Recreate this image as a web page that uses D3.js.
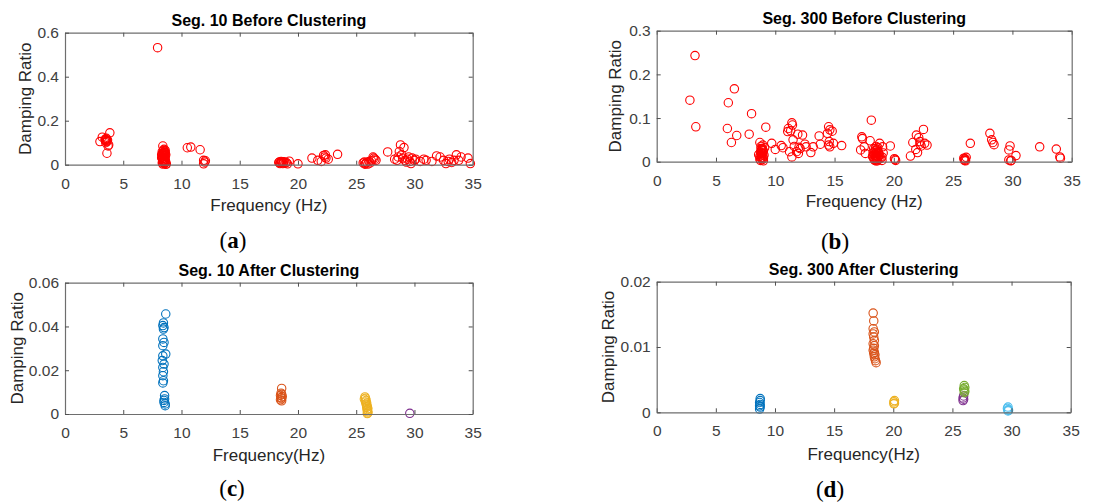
<!DOCTYPE html>
<html>
<head>
<meta charset="utf-8">
<script src="https://cdn.jsdelivr.net/npm/d3@7"></script>
<style>
	body { margin: 0; background: #fff; }
	svg { display: block; font-family: "Liberation Sans", Arial, sans-serif; }
</style>
</head>
<body>
<div id="chart"></div>
<script>
// ---- data (frequency Hz, damping ratio) ----
const xTicks = [0, 5, 10, 15, 20, 25, 30, 35];
const yTicksA = [0, 0.2, 0.4, 0.6];
const yTicksB = [0, 0.1, 0.2, 0.3];
const yTicksC = [0, 0.02, 0.04, 0.06];
const yTicksD = [0, 0.01, 0.02];

// Seg. 10 before clustering
const seg10Before = [
	[3.0, 0.105], [3.2, 0.125], [3.45, 0.115], [3.5, 0.11], [3.55, 0.12], [3.6, 0.105], [3.5, 0.1],
	[3.65, 0.112], [3.7, 0.085], [3.6, 0.052], [3.85, 0.145], [3.75, 0.09], [3.5, 0.115], [3.55, 0.108], [3.45, 0.112],
	[7.95, 0.532],
	[8.4, 0.085], [8.5, 0.07], [8.35, 0.06], [8.6, 0.055], [8.45, 0.05], [8.3, 0.045], [8.5, 0.042],
	[8.6, 0.038], [8.4, 0.035], [8.55, 0.03], [8.35, 0.028], [8.6, 0.025], [8.45, 0.02], [8.5, 0.015],
	[8.65, 0.012], [8.4, 0.01], [8.55, 0.005], [8.7, 0.003], [8.3, 0.032], [8.5, 0.022], [8.4, 0.018],
	[8.65, 0.045], [8.35, 0.008], [8.45, 0.065], [8.55, 0.06], [8.35, 0.05], [8.6, 0.048], [8.5, 0.04],
	[8.4, 0.027], [8.6, 0.018], [8.45, 0.012], [8.55, 0.008], [8.65, 0.002], [8.4, 0.003], [8.5, 0.055], [8.6, 0.065],
	[10.5, 0.077], [10.8, 0.08], [11.6, 0.068], [11.9, 0.02], [12.0, 0.012], [11.9, 0.004], [12.05, 0.018],
	[18.4, 0.012], [18.5, 0.008], [18.6, 0.01], [18.7, 0.005], [18.8, 0.013], [18.9, 0.007], [19.0, 0.01],
	[18.55, 0.015], [19.1, 0.004], [19.25, 0.016], [20.0, 0.004], [18.45, 0.005], [18.65, 0.013],
	[18.75, 0.009], [18.35, 0.01],
	[21.2, 0.03], [21.7, 0.02], [22.0, 0.015], [22.2, 0.042], [22.3, 0.035], [22.4, 0.03], [22.6, 0.025],
	[22.35, 0.045], [23.4, 0.047],
	[25.6, 0.008], [25.7, 0.012], [25.8, 0.005], [25.9, 0.01], [26.0, 0.003], [26.1, 0.015], [26.2, 0.008],
	[25.75, 0.002], [26.3, 0.018], [26.5, 0.03], [26.6, 0.025], [26.7, 0.02], [26.45, 0.035],
	[27.7, 0.058], [28.3, 0.025], [28.5, 0.02], [28.6, 0.035], [28.7, 0.06], [28.8, 0.09], [29.1, 0.078],
	[28.9, 0.045], [29.0, 0.03], [29.2, 0.02], [29.4, 0.025], [29.5, 0.035], [29.6, 0.015], [29.7, 0.005],
	[29.3, 0.012], [29.8, 0.03], [30.0, 0.02],
	[30.1, 0.025], [30.5, 0.015], [30.8, 0.025], [31.0, 0.02], [31.5, 0.015], [31.9, 0.04], [32.2, 0.035],
	[32.5, 0.02], [32.7, 0.005], [32.9, 0.015], [33.0, 0.025], [33.2, 0.01], [33.4, 0.02], [33.6, 0.045],
	[33.8, 0.02], [34.0, 0.035], [34.6, 0.03], [34.8, 0.005]
];

// Seg. 300 before clustering
const seg300Before = [
	[3.23, 0.243], [2.8, 0.141], [3.3, 0.08],
	[6.04, 0.135], [6.55, 0.167], [5.96, 0.076], [6.3, 0.044], [6.75, 0.06],
	[7.8, 0.063], [8.0, 0.11], [9.2, 0.079], [9.7, 0.042], [10.0, 0.028], [10.5, 0.037], [10.65, 0.032],
	[8.7, 0.044], [8.8, 0.035], [8.9, 0.03], [9.0, 0.025], [8.75, 0.022], [8.85, 0.018], [9.05, 0.015],
	[8.7, 0.012], [8.95, 0.01], [8.8, 0.008], [8.9, 0.005], [8.75, 0.003], [9.0, 0.002], [8.85, 0.026],
	[9.1, 0.032], [8.6, 0.016], [8.95, 0.038], [8.8, 0.014], [8.8, 0.02], [8.9, 0.02], [8.85, 0.01],
	[8.9, 0.028], [8.8, 0.03], [8.95, 0.018], [8.7, 0.006], [9.0, 0.008],
	[11.4, 0.089], [11.45, 0.084], [11.1, 0.076], [11.05, 0.069], [11.5, 0.05], [11.9, 0.063], [12.3, 0.061],
	[11.6, 0.035], [11.2, 0.023], [11.4, 0.011], [11.8, 0.023], [11.95, 0.019], [12.1, 0.03], [12.5, 0.04],
	[12.6, 0.034], [11.3, 0.071], [12.0, 0.033],
	[13.0, 0.021], [13.2, 0.034], [13.7, 0.059], [13.8, 0.04], [14.5, 0.08], [14.6, 0.073], [14.4, 0.065],
	[14.8, 0.07], [14.5, 0.038], [14.55, 0.046], [14.6, 0.034], [14.9, 0.042], [15.6, 0.037],
	[17.3, 0.057], [17.35, 0.053], [17.2, 0.027], [17.5, 0.034], [17.6, 0.019], [18.1, 0.095], [18.0, 0.048],
	[18.3, 0.03], [18.4, 0.025], [18.5, 0.02], [18.35, 0.015], [18.45, 0.01], [18.55, 0.005], [18.6, 0.028],
	[18.65, 0.018], [18.3, 0.008], [18.4, 0.003], [18.7, 0.012], [18.5, 0.035], [18.6, 0.002], [18.25, 0.02],
	[18.75, 0.006], [18.5, 0.014], [18.4, 0.018], [18.55, 0.022], [18.45, 0.03], [18.6, 0.008], [18.35, 0.005],
	[18.7, 0.022], [18.8, 0.015], [18.9, 0.008], [18.5, 0.002], [18.65, 0.032], [18.2, 0.012], [18.55, 0.012],
	[18.8, 0.042], [19.05, 0.034], [19.0, 0.011], [19.1, 0.02], [19.0, 0.003], [19.7, 0.036],
	[20.1, 0.005], [20.15, 0.003], [20.05, 0.007],
	[21.4, 0.013], [21.6, 0.044], [21.9, 0.061], [21.85, 0.028], [22.1, 0.055], [22.2, 0.046], [22.3, 0.036],
	[22.5, 0.074], [22.6, 0.042], [22.8, 0.038], [22.2, 0.04], [22.0, 0.021],
	[25.9, 0.008], [26.0, 0.004], [26.05, 0.002], [25.95, 0.006], [26.1, 0.01], [26.0, 0.007], [25.95, 0.003],
	[26.45, 0.042],
	[28.1, 0.065], [28.25, 0.05], [28.35, 0.044], [28.45, 0.039],
	[29.7, 0.027], [29.8, 0.036], [29.7, 0.004], [29.85, 0.002], [29.9, 0.003], [30.3, 0.014],
	[32.3, 0.034], [33.7, 0.029], [34.0, 0.011], [34.05, 0.008]
];

// Seg. 10 after clustering, one array per cluster
const seg10Cluster1 = [
	[8.65, 0.0457], [8.45, 0.0416], [8.4, 0.0404], [8.5, 0.0395], [8.45, 0.0388], [8.4, 0.0343], [8.5, 0.0327],
	[8.4, 0.0312], [8.65, 0.0274], [8.4, 0.0266], [8.35, 0.0244], [8.5, 0.0228], [8.4, 0.0213], [8.45, 0.0193],
	[8.4, 0.0175], [8.45, 0.0152], [8.4, 0.0142], [8.55, 0.0084], [8.55, 0.0069], [8.5, 0.0053], [8.6, 0.0038],
	[8.5, 0.0062], [8.6, 0.0046]
];
const seg10Cluster2 = [
	[18.6, 0.0117], [18.55, 0.0095], [18.6, 0.009], [18.5, 0.0085], [18.65, 0.008], [18.55, 0.0075],
	[18.6, 0.007], [18.5, 0.0065], [18.6, 0.006]
];
const seg10Cluster3 = [
	[25.75, 0.0078], [25.8, 0.0072], [25.7, 0.0068], [25.85, 0.0062], [25.8, 0.0055], [25.9, 0.005],
	[25.85, 0.0045], [25.9, 0.004], [25.95, 0.0035], [25.9, 0.003], [26.0, 0.0025], [25.95, 0.002],
	[25.95, 0.0015], [26.0, 0.001], [26.0, 0.0005], [25.95, 0.0002]
];
const seg10Cluster4 = [[29.6, 0.0003]];

// Seg. 300 after clustering
const seg300Cluster1 = [
	[8.75, 0.0021], [8.75, 0.0018], [8.7, 0.0015], [8.75, 0.0012], [8.7, 0.001], [8.75, 0.0008], [8.7, 0.0005]
];
const seg300Cluster2 = [
	[18.3, 0.0152], [18.35, 0.014], [18.3, 0.0128], [18.4, 0.0123], [18.3, 0.012], [18.35, 0.0115],
	[18.4, 0.011], [18.3, 0.0105], [18.4, 0.0102], [18.35, 0.0098], [18.3, 0.0095], [18.4, 0.0092],
	[18.35, 0.009], [18.45, 0.0088], [18.4, 0.0085], [18.45, 0.0082], [18.5, 0.0079], [18.55, 0.0076]
];
const seg300Cluster3 = [[20.1, 0.0018], [20.05, 0.0016], [20.1, 0.0014], [20.05, 0.0013]];
const seg300Cluster4 = [[25.95, 0.0025], [25.9, 0.0022], [25.95, 0.002], [25.9, 0.0018]];
const seg300Cluster5 = [[26.0, 0.0041], [26.05, 0.0038], [25.95, 0.0036], [26.0, 0.0034], [26.05, 0.0032], [26.0, 0.003]];
const seg300Cluster6 = [[29.7, 0.0008], [29.65, 0.0006], [29.7, 0.0004], [29.75, 0.0003], [29.7, 0.0002]];

const clusterColors = ["#0072BD", "#D95319", "#EDB120", "#7E2F8E", "#77AC30", "#4DBEEE"];

const W = 1107, H = 502;

const svg = d3.select("#chart")
	.append("svg")
	.attr("width", W)
	.attr("height", H);

function drawPanel(p) {
	const x = d3.scaleLinear().domain([0, 35]).range([p.left, p.right]);
	const y = d3.scaleLinear().domain([0, p.yMax]).range([p.bottom, p.top]);
	const g = svg.append("g");

	// points first so axes sit on top
	p.series.forEach(s => {
		g.append("g")
			.selectAll("circle")
			.data(s.data)
			.enter()
			.append("circle")
			.attr("cx", d => x(d[0]))
			.attr("cy", d => y(d[1]))
			.attr("r", 4.2)
			.attr("fill", "none")
			.attr("stroke", s.color)
			.attr("stroke-width", 1.1);
	});

	// axes (ticks point inward, box all round)
	g.append("g")
		.attr("transform", `translate(0, ${p.bottom})`)
		.call(d3.axisBottom(x).tickValues(xTicks).tickSizeInner(-4).tickSizeOuter(0).tickPadding(13).tickFormat(d => d));
	g.append("g")
		.attr("transform", `translate(0, ${p.top})`)
		.call(d3.axisTop(x).tickValues(xTicks).tickSizeInner(-4).tickSizeOuter(0).tickFormat(""));
	g.append("g")
		.attr("transform", `translate(${p.left}, 0)`)
		.call(d3.axisLeft(y).tickValues(p.yTicks).tickSizeInner(-4).tickSizeOuter(0).tickPadding(6).tickFormat(d => String(d)));
	g.append("g")
		.attr("transform", `translate(${p.right}, 0)`)
		.call(d3.axisRight(y).tickValues(p.yTicks).tickSizeInner(-4).tickSizeOuter(0).tickFormat(""));
	g.selectAll(".tick text")
		.style("font-size", "15.5px")
		.style("font-family", "'Liberation Sans', Arial, sans-serif")
		.attr("fill", "#404040");
	g.selectAll(".domain").attr("stroke", "#6e6e6e").attr("stroke-width", 1.2);
	g.selectAll(".tick line").attr("stroke", "#505050");

	const cx = (p.left + p.right) / 2;

	g.append("text")
		.text(p.title)
		.attr("x", cx)
		.attr("y", p.titleY)
		.style("text-anchor", "middle")
		.style("font-weight", "bold")
		.style("font-size", "16px")
		.attr("fill", "#000");

	g.append("text")
		.text(p.xLabel)
		.attr("x", cx)
		.attr("y", p.xLabelY)
		.style("text-anchor", "middle")
		.style("font-size", "17px")
		.attr("fill", "#262626");

	g.append("text")
		.text("Damping Ratio")
		.attr("transform", `translate(${p.yLabelX}, ${(p.top + p.bottom) / 2}) rotate(-90)`)
		.attr("dy", "0.35em")
		.style("text-anchor", "middle")
		.style("font-size", "17px")
		.attr("fill", "#262626");

	const tag = g.append("text")
		.attr("x", p.tagX)
		.attr("y", p.tagY)
		.style("text-anchor", "middle")
		.style("font-family", "'Liberation Serif', 'DejaVu Serif', serif")
		.style("font-size", "23px")
		.attr("fill", "#000");
	tag.append("tspan").text("(");
	tag.append("tspan").text(p.tag).style("font-weight", "bold");
	tag.append("tspan").text(")");
}

const panels = [
	{
		left: 65, right: 472.7, top: 32.7, bottom: 164.7, yMax: 0.6, yTicks: yTicksA,
		title: "Seg. 10 Before Clustering", titleY: 26, xLabel: "Frequency (Hz)", xLabelY: 211,
		yLabelX: 25, tag: "a", tagX: 233, tagY: 248,
		series: [{ data: seg10Before, color: "#ff0000" }]
	},
	{
		left: 656.7, right: 1071.7, top: 30.7, bottom: 161.7, yMax: 0.3, yTicks: yTicksB,
		title: "Seg. 300 Before Clustering", titleY: 24, xLabel: "Frequency (Hz)", xLabelY: 207,
		yLabelX: 615, tag: "b", tagX: 835, tagY: 249,
		series: [{ data: seg300Before, color: "#ff0000" }]
	},
	{
		left: 65, right: 472.7, top: 282.7, bottom: 414, yMax: 0.06, yTicks: yTicksC,
		title: "Seg. 10 After Clustering", titleY: 276, xLabel: "Frequency(Hz)", xLabelY: 461,
		yLabelX: 17, tag: "c", tagX: 232, tagY: 496,
		series: [seg10Cluster1, seg10Cluster2, seg10Cluster3, seg10Cluster4]
			.map((d, i) => ({ data: d, color: clusterColors[i] }))
	},
	{
		left: 656.7, right: 1070.7, top: 281.7, bottom: 412.3, yMax: 0.02, yTicks: yTicksD,
		title: "Seg. 300 After Clustering", titleY: 275, xLabel: "Frequency(Hz)", xLabelY: 460,
		yLabelX: 608, tag: "d", tagX: 830, tagY: 497,
		series: [seg300Cluster1, seg300Cluster2, seg300Cluster3, seg300Cluster4, seg300Cluster5, seg300Cluster6]
			.map((d, i) => ({ data: d, color: clusterColors[i] }))
	}
];

panels.forEach(drawPanel);
</script>
</body>
</html>
